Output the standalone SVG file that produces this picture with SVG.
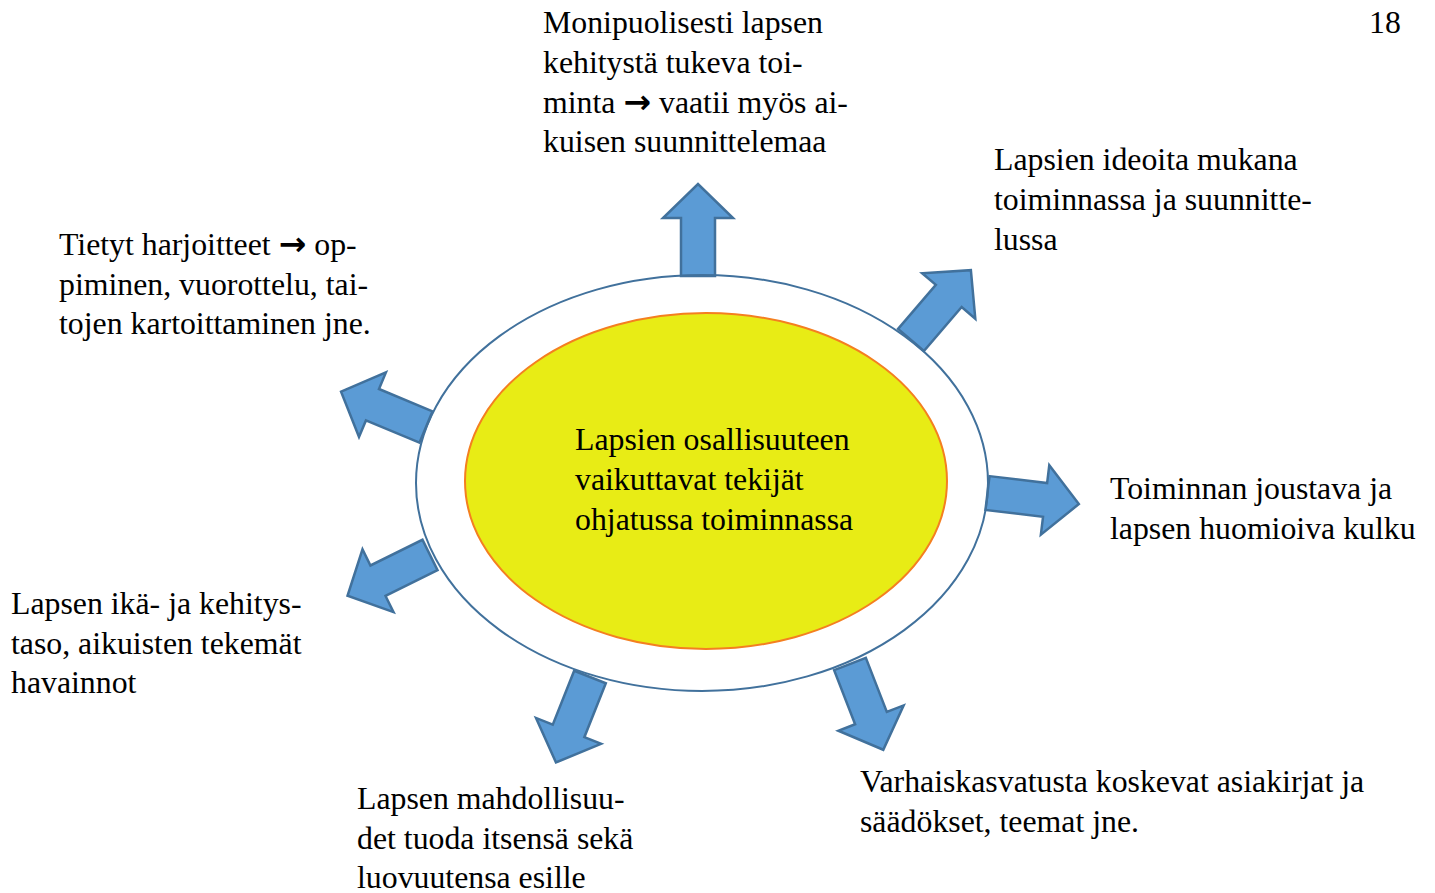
<svg xmlns="http://www.w3.org/2000/svg" width="1435" height="893" viewBox="0 0 1435 893">
<defs>
<path id="arr" d="M0,-17 L58,-17 L58,-35 L92,0 L58,35 L58,17 L0,17 Z"/>
</defs>
<style>
.t{font-family:"Liberation Serif","Times New Roman",serif;font-size:31.8px;fill:#000}
.a{font-family:"DejaVu Sans",sans-serif;font-weight:bold;font-size:33px}
.arrow{fill:#5B9BD5;stroke:#41719C;stroke-width:2.5;stroke-linejoin:miter}
</style>
<rect width="1435" height="893" fill="#fff"/>
<g id="outer">
<ellipse cx="702" cy="483" rx="286" ry="208" fill="#fff" stroke="none"/>
</g>
<g id="connectors">
<use href="#arr" class="arrow" transform="translate(698,276) rotate(-90)"/>
<use href="#arr" class="arrow" transform="translate(911,340) rotate(-49.4)"/>
<use href="#arr" class="arrow" transform="translate(426,427) rotate(-157.4)"/>
<use href="#arr" class="arrow" transform="translate(430,555) rotate(153.7)"/>
<use href="#arr" class="arrow" transform="translate(987.5,493) rotate(6.9)"/>
<use href="#arr" class="arrow" transform="translate(850,664) rotate(68.8)"/>
<use href="#arr" class="arrow" transform="translate(590,677) rotate(111.7)"/>
</g>
<g id="outer-ring">
<ellipse cx="702" cy="483" rx="286" ry="208" fill="none" stroke="#41719C" stroke-width="2"/>
</g>
<g id="center">
<ellipse cx="706" cy="481" rx="241" ry="168" fill="#E8EC15" stroke="#F47F20" stroke-width="2"/>
<text class="t" x="575" y="450">Lapsien osallisuuteen</text>
<text class="t" x="575" y="490">vaikuttavat tekijät</text>
<text class="t" x="575" y="530">ohjatussa toiminnassa</text>
</g>
<g id="pagenum"><text class="t" x="1369" y="33">18</text></g>
<g id="n-top">
<text class="t" x="543" y="33">Monipuolisesti lapsen</text>
<text class="t" x="543" y="73">kehitystä tukeva toi-</text>
<text class="t" x="543" y="113">minta <tspan class="a">→</tspan> vaatii myös ai-</text>
<text class="t" x="543" y="152">kuisen suunnittelemaa</text>
</g>
<g id="n-topright">
<text class="t" x="994" y="170">Lapsien ideoita mukana</text>
<text class="t" x="994" y="210">toiminnassa ja suunnitte-</text>
<text class="t" x="994" y="250">lussa</text>
</g>
<g id="n-topleft">
<text class="t" x="59" y="255">Tietyt harjoitteet <tspan class="a">→</tspan> op-</text>
<text class="t" x="59" y="295">piminen, vuorottelu, tai-</text>
<text class="t" x="59" y="334">tojen kartoittaminen jne.</text>
</g>
<g id="n-right">
<text class="t" x="1110" y="499">Toiminnan joustava ja</text>
<text class="t" x="1110" y="539">lapsen huomioiva kulku</text>
</g>
<g id="n-left">
<text class="t" x="11" y="614">Lapsen ikä- ja kehitys-</text>
<text class="t" x="11" y="654">taso, aikuisten tekemät</text>
<text class="t" x="11" y="693">havainnot</text>
</g>
<g id="n-bottomright">
<text class="t" x="860" y="792">Varhaiskasvatusta koskevat asiakirjat ja</text>
<text class="t" x="860" y="832">säädökset, teemat jne.</text>
</g>
<g id="n-bottomleft">
<text class="t" x="357" y="809">Lapsen mahdollisuu-</text>
<text class="t" x="357" y="849">det tuoda itsensä sekä</text>
<text class="t" x="357" y="888">luovuutensa esille</text>
</g>
</svg>
